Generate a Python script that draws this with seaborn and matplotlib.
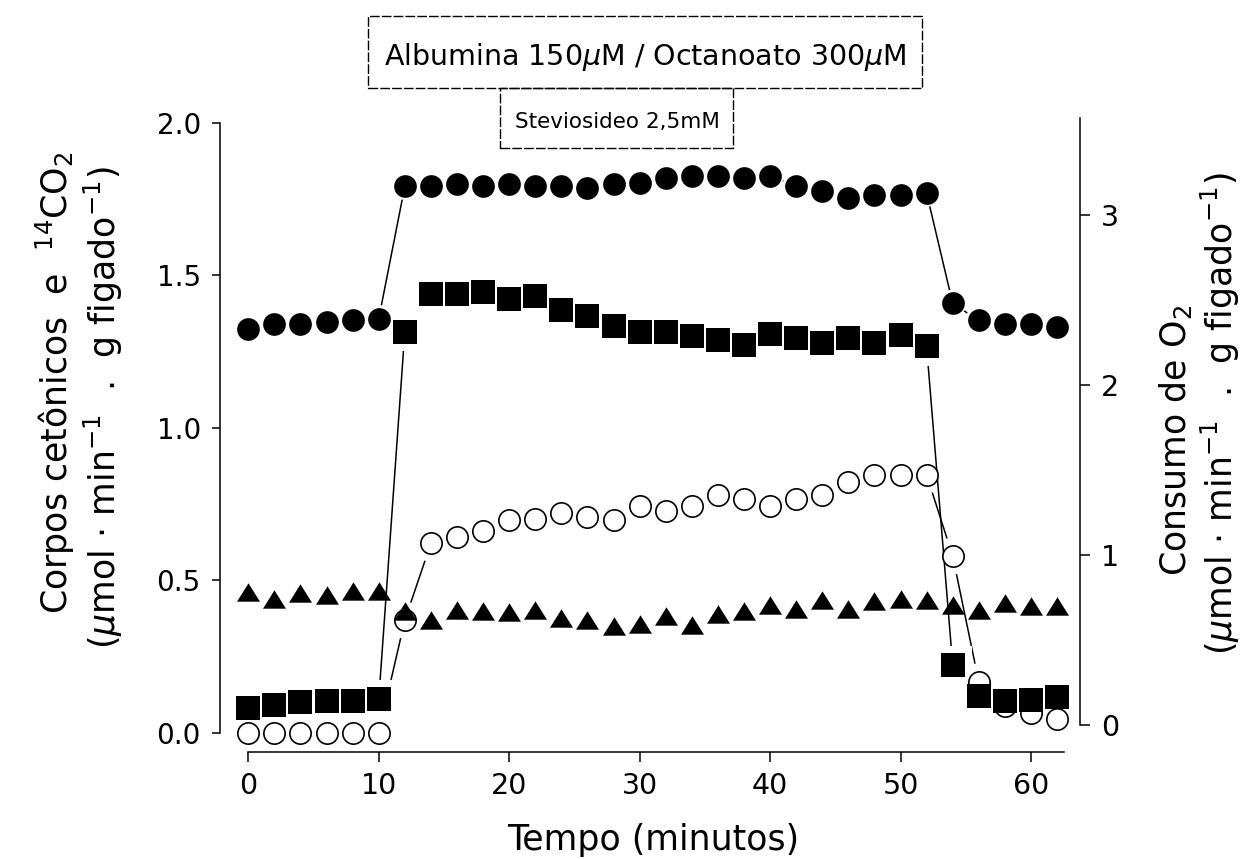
import matplotlib
matplotlib.use("Agg")
import matplotlib.pyplot as plt
import seaborn as sns
from matplotlib.markers import MarkerStyle
from matplotlib.patches import Rectangle

# ---- data -------------------------------------------------------------
tempo = list(range(0, 63, 2))

# right axis: O2 uptake (filled circles)
consumo_o2 = [2.33, 2.36, 2.36, 2.37, 2.38, 2.39, 3.17, 3.17, 3.18, 3.17,
              3.18, 3.17, 3.17, 3.16, 3.18, 3.19, 3.22, 3.23, 3.23, 3.22,
              3.23, 3.17, 3.14, 3.10, 3.12, 3.12, 3.13, 2.48, 2.38, 2.36,
              2.36, 2.34]

# left axis: filled squares
corpos_cetonicos = [0.083, 0.092, 0.103, 0.105, 0.106, 0.110, 1.316, 1.439,
                    1.439, 1.444, 1.422, 1.431, 1.385, 1.367, 1.335, 1.316,
                    1.314, 1.303, 1.289, 1.271, 1.307, 1.294, 1.278, 1.294,
                    1.280, 1.304, 1.267, 0.223, 0.121, 0.106, 0.108, 0.117]

# left axis: open circles
co2_14 = [0.0, 0.0, 0.0, 0.0, 0.0, 0.0, 0.370, 0.622, 0.642, 0.663, 0.698,
          0.701, 0.720, 0.709, 0.698, 0.745, 0.727, 0.745, 0.780, 0.767,
          0.745, 0.767, 0.780, 0.824, 0.846, 0.846, 0.846, 0.580, 0.168,
          0.090, 0.065, 0.045]

# left axis: filled triangles
serie_triangulos = [0.461, 0.439, 0.458, 0.451, 0.464, 0.466, 0.400, 0.370,
                    0.404, 0.400, 0.398, 0.404, 0.376, 0.370, 0.352, 0.358,
                    0.384, 0.355, 0.389, 0.400, 0.420, 0.408, 0.437, 0.408,
                    0.433, 0.440, 0.435, 0.420, 0.404, 0.426, 0.415, 0.415]

x_ticks = [0, 10, 20, 30, 40, 50, 60]
y_left_ticks = [0.0, 0.5, 1.0, 1.5, 2.0]
y_right_ticks = [0, 1, 2, 3]

texto_caixa_1 = "Albumina 150$\\mu$M / Octanoato 300$\\mu$M"
texto_caixa_2 = "Steviosideo 2,5mM"
rotulo_x = "Tempo (minutos)"
rotulo_esq_1 = "Corpos cetônicos  e  $^{14}$CO$_2$"
rotulo_esq_2 = "($\\mu$mol $\\cdot$ min$^{-1}$  .  g figado$^{-1}$)"
rotulo_dir_1 = "Consumo de O$_2$"
rotulo_dir_2 = "($\\mu$mol $\\cdot$ min$^{-1}$  .  g figado$^{-1}$)"

# ---- figure -----------------------------------------------------------
sns.set_theme(style="ticks")
plt.rcParams["font.family"] = ["DejaVu Sans"]
plt.rcParams["mathtext.fontset"] = "dejavusans"

W, H = 1244, 859
fig = plt.figure(figsize=(W / 100, H / 100), dpi=100)
fig.patch.set_facecolor("white")

ax_l, ax_r, ax_t, ax_b = 220, 1080, 118, 733
ax1 = fig.add_axes([ax_l / W, 1 - ax_b / H, (ax_r - ax_l) / W, (ax_b - ax_t) / H])
ax1.patch.set_visible(False)
ax2 = ax1.twinx()

ax1.set_xlim(-2.17, 63.76)
ax1.set_ylim(0.0, 2.016)
ax2.set_ylim(-0.047, 3.571)

tri = MarkerStyle([(0, 0.8), (-1, -0.8), (1, -0.8), (0, 0.8)])


def px2(d):
    """marker area (pt^2) for a size given in pixels at 100 dpi"""
    return (d * 0.72) ** 2


def serie(ax, y, marker, size, z_line, z_mark, halo_marker, halo_size,
          face="black", edge="black", lw=0.0, transform=None):
    # joining line, a white gap around each marker, then the marker itself
    extra = {} if transform is None else {"transform": transform}
    sns.lineplot(x=tempo, y=y, ax=ax, color="black", linewidth=1.1,
                 estimator=None, sort=False, zorder=z_line, **extra)
    sns.scatterplot(x=tempo, y=y, ax=ax, s=px2(halo_size), marker=halo_marker,
                    color="white", edgecolor="none", linewidth=0,
                    zorder=z_line + 0.05, clip_on=False, **extra)
    sns.scatterplot(x=tempo, y=y, ax=ax, s=px2(size), marker=marker,
                    color=face, edgecolor=edge, linewidth=lw, zorder=z_mark,
                    clip_on=False, **extra)


serie(ax1, serie_triangulos, tri, 23.0, 1.0, 3.1, "o", 36)
serie(ax1, co2_14, "o", 21.3, 1.2, 3.0, "o", 37,
      face="white", edge="black", lw=1.2)
serie(ax1, corpos_cetonicos, "s", 23.5, 1.4, 3.2, "s", 38.5)
serie(ax1, consumo_o2, "o", 22.7, 1.6, 3.3, "o", 27.5,
      transform=ax2.transData)

ax1.set_xlim(-2.17, 63.76)
ax1.set_ylim(0.0, 2.016)
ax2.set_ylim(-0.047, 3.571)

# ---- axes styling -----------------------------------------------------
for sp in ("top", "right"):
    ax1.spines[sp].set_visible(False)
for sp in ("top", "left", "bottom"):
    ax2.spines[sp].set_visible(False)

for sp in (ax1.spines["left"], ax1.spines["bottom"], ax2.spines["right"]):
    sp.set_linewidth(1.1)
    sp.set_color("black")

ax1.spines["bottom"].set_position(("outward", 13.7))
ax1.spines["bottom"].set_bounds(0, 62.5)
ax1.spines["left"].set_bounds(0, 2.0)
ax2.spines["right"].set_bounds(0, 3.571)

ax1.set_xticks(x_ticks)
ax1.set_xticklabels([str(t) for t in x_ticks])
ax1.set_yticks(y_left_ticks)
ax1.set_yticklabels([f"{v:.1f}" for v in y_left_ticks])
ax2.set_yticks(y_right_ticks)
ax2.set_yticklabels([str(v) for v in y_right_ticks])

ax1.tick_params(axis="x", direction="out", length=7.2, width=1.1,
                labelsize=20.5, pad=7.0, colors="black")
ax1.tick_params(axis="y", direction="out", length=5.8, width=1.1,
                labelsize=20.0, pad=8.0, colors="black")
ax2.tick_params(axis="y", direction="out", length=7.2, width=1.1,
                labelsize=20.5, pad=8.0, colors="black")

ax1.set_xlabel("")
ax1.set_ylabel("")
ax2.set_ylabel("")
ax1.grid(False)
ax2.grid(False)


# ---- axis titles ------------------------------------------------------
def fx(px):
    return px / W


def fy(py):
    return 1 - py / H


lab = dict(fontsize=25, color="black", ha="center", va="center")
fig.text(fx(653), fy(840), rotulo_x, **lab)
fig.text(fx(55), fy(383), rotulo_esq_1, rotation=90, **lab)
fig.text(fx(103), fy(408), rotulo_esq_2, rotation=90, **lab)
fig.text(fx(1176), fy(440), rotulo_dir_1, rotation=90, **lab)
fig.text(fx(1220), fy(414), rotulo_dir_2, rotation=90, **lab)

# ---- treatment boxes --------------------------------------------------
caixa = dict(fill=False, edgecolor="black", linewidth=1.0,
             linestyle=(0, (7, 1.5)), transform=fig.transFigure)
fig.patches.append(Rectangle((fx(368), fy(88)), fx(922) - fx(368),
                             fy(16) - fy(88), **caixa))
fig.patches.append(Rectangle((fx(500), fy(148)), fx(733) - fx(500),
                             fy(88) - fy(148), **caixa))
fig.text(fx(645), fy(57), texto_caixa_1, fontsize=20.5, color="black",
         ha="center", va="center")
fig.text(fx(617), fy(122), texto_caixa_2, fontsize=15.5, color="black",
         ha="center", va="center")

fig.savefig("out.png", dpi=100, facecolor="white")
